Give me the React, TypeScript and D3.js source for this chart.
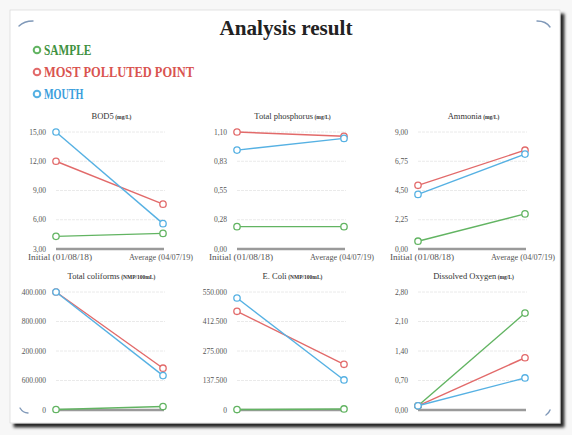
import React from 'react';
import * as d3 from 'd3';

// categories + series
const categories = ['Initial (01/08/18)', 'Average (04/07/19)'];
const seriesNames = ['SAMPLE', 'MOST POLLUTED POINT', 'MOUTH'];
const seriesColors = ['#62b462', '#e26a6a', '#56b1e3'];
const legendColors = ['#3f913f', '#d9534f', '#3a9edc'];

const panelTitles = ['BOD5', 'Total phosphorus', 'Ammonia', 'Total coliforms', 'E. Coli', 'Dissolved Oxygen'];
const panelUnits = ['(mg/L)', '(mg/L)', '(mg/L)', '(NMP/100mL)', '(NMP/100mL)', '(mg/L)'];

// values: [initial, average]
const bodSample = [4.3, 4.6];
const bodPolluted = [12.0, 7.6];
const bodMouth = [15.0, 5.6];
const phosSample = [0.21, 0.21];
const phosPolluted = [1.1, 1.06];
const phosMouth = [0.93, 1.04];
const ammoniaSample = [0.6, 2.7];
const ammoniaPolluted = [4.9, 7.6];
const ammoniaMouth = [4.2, 7.3];
const coliSample = [10000, 70000];
const coliPolluted = [2400000, 850000];
const coliMouth = [2400000, 700000];
const ecoliSample = [2000, 5000];
const ecoliPolluted = [460000, 213000];
const ecoliMouth = [522000, 140000];
const oxySample = [0.1, 2.3];
const oxyPolluted = [0.1, 1.24];
const oxyMouth = [0.1, 0.76];

// axis ticks
const bodTicks = [3, 6, 9, 12, 15];
const bodTickLabels = ['3,00', '6,00', '9,00', '12,00', '15,00'];
const phosTicks = [0, 0.275, 0.55, 0.825, 1.1];
const phosTickLabels = ['0,00', '0,28', '0,55', '0,83', '1,10'];
const ammoniaTicks = [0, 2.25, 4.5, 6.75, 9];
const ammoniaTickLabels = ['0,00', '2,25', '4,50', '6,75', '9,00'];
const coliTicks = [0, 600000, 1200000, 1800000, 2400000];
const coliTickLabels = ['0', '600.000', '1.200.000', '1.800.000', '2.400.000'];
const ecoliTicks = [0, 137500, 275000, 412500, 550000];
const ecoliTickLabels = ['0', '137.500', '275.000', '412.500', '550.000'];
const oxyTicks = [0, 0.7, 1.4, 2.1, 2.8];
const oxyTickLabels = ['0,00', '0,70', '1,40', '2,10', '2,80'];

const panelSeries = [
    [bodSample, bodPolluted, bodMouth],
    [phosSample, phosPolluted, phosMouth],
    [ammoniaSample, ammoniaPolluted, ammoniaMouth],
    [coliSample, coliPolluted, coliMouth],
    [ecoliSample, ecoliPolluted, ecoliMouth],
    [oxySample, oxyPolluted, oxyMouth]
];
const panelTicks = [bodTicks, phosTicks, ammoniaTicks, coliTicks, ecoliTicks, oxyTicks];
const panelTickLabels = [bodTickLabels, phosTickLabels, ammoniaTickLabels, coliTickLabels, ecoliTickLabels, oxyTickLabels];

const serif = "'Liberation Serif', 'DejaVu Serif', serif";

function Panel({ idx }: { idx: number }) {
    const col = idx % 3;
    const row = Math.floor(idx / 3);
    const x0 = 56 + col * 181;
    const x1 = x0 + 107;
    const yTop = 132 + row * 160;
    const yBase = 249 + row * 161;

    const ticks = panelTicks[idx];
    const x = d3.scalePoint<string>().domain(categories).range([x0, x1]);
    const y = d3.scaleLinear().domain([ticks[0], ticks[ticks.length - 1]]).range([yBase, yTop]);
    const line = d3.line<number>()
        .x((_, i) => x(categories[i]) as number)
        .y((d) => y(d));

    return (
        <g clipPath={`url(#clip-${idx})`}>
            <defs>
                <clipPath id={`clip-${idx}`}>
                    <rect x={x0 - 35} y={yTop - 25} width={180} height={160} />
                </clipPath>
            </defs>
            <text x={(x0 + x1) / 2 + 2} y={yTop - 13} textAnchor="middle" fontFamily={serif} fontSize={8.5} fill="#333">
                {panelTitles[idx]}
                <tspan fontSize={5.5} fontWeight="bold" dx={1.5}>{panelUnits[idx]}</tspan>
            </text>
            {ticks.map((t, i) => (
                <g key={i}>
                    {i > 0 && (
                        <line x1={x0} x2={x1 + 2} y1={y(t)} y2={y(t)} stroke="#e4e4e4" strokeWidth={0.8} strokeDasharray="3,1" />
                    )}
                    <text x={x0 - 10} y={y(t)} dy="0.35em" textAnchor="end" fontFamily={serif} fontSize={7.5} fill="#555">
                        {panelTickLabels[idx][i]}
                    </text>
                </g>
            ))}
            <line x1={x0} x2={x1 + 1} y1={yBase} y2={yBase} stroke="#9a9a9a" strokeWidth={2.6} />
            {row === 0 && categories.map((c, i) => (
                <text key={c} x={(x(c) as number) + (i === 0 ? 4 : -2)} y={yBase + 11} textAnchor="middle" fontFamily={serif}
                    fontSize={7.6} fill="#555" textLength={64} lengthAdjust="spacingAndGlyphs">
                    {c}
                </text>
            ))}
            {panelSeries[idx].map((vals, s) => (
                <g key={s}>
                    <path d={line(vals) || ''} fill="none" stroke={seriesColors[s]} strokeWidth={1.4} />
                    {vals.map((v, i) => (
                        <circle key={i} cx={x(categories[i]) as number} cy={y(v)} r={3.2} fill="#fff" stroke={seriesColors[s]} strokeWidth={1.3} />
                    ))}
                </g>
            ))}
        </g>
    );
}

export default function App() {
    return (
        <svg width={572} height={435} style={{ position: 'absolute', left: 0, top: 0, background: '#f7f7f7' }}>
            <defs>
                <filter id="shadow" x="-5%" y="-5%" width="115%" height="115%">
                    <feDropShadow dx={4} dy={4} stdDeviation={1.6} floodColor="#000" floodOpacity={0.85} />
                </filter>
                <clipPath id="card-clip">
                    <rect x={10} y={10} width={550} height={413} />
                </clipPath>
            </defs>
            <rect x={10} y={10} width={550} height={413} fill="#fff" stroke="#dcdcdc" strokeWidth={0.8} filter="url(#shadow)" />
            {/* corner flourishes */}
            <g fill="none" stroke="#7f98b8" strokeWidth={1.4} strokeLinecap="round">
                <path d="M19,26 Q24,21 33,21" />
                <path d="M537,21 Q546,21 550,27" />
                <path d="M546,415 Q549,413 550,410" />
                <path d="M20,408 Q23,413 28,413" />
            </g>
            <g clipPath="url(#card-clip)">
                <text x={286} y={35} textAnchor="middle" fontFamily={serif} fontWeight="bold" fontSize={21} fill="#222"
                    textLength={133} lengthAdjust="spacingAndGlyphs">
                    Analysis result
                </text>
                {seriesNames.map((name, i) => (
                    <g key={name}>
                        <circle cx={37} cy={50 + i * 22} r={3.3} fill="#fff" stroke={seriesColors[i]} strokeWidth={2} />
                        <text x={44} y={55 + i * 22} fontFamily={serif} fontWeight="bold" fontSize={14} fill={legendColors[i]}
                            textLength={name.length * 7.9} lengthAdjust="spacingAndGlyphs">
                            {name}
                        </text>
                    </g>
                ))}
                {panelTitles.map((_, i) => (
                    <Panel key={i} idx={i} />
                ))}
            </g>
        </svg>
    );
}
